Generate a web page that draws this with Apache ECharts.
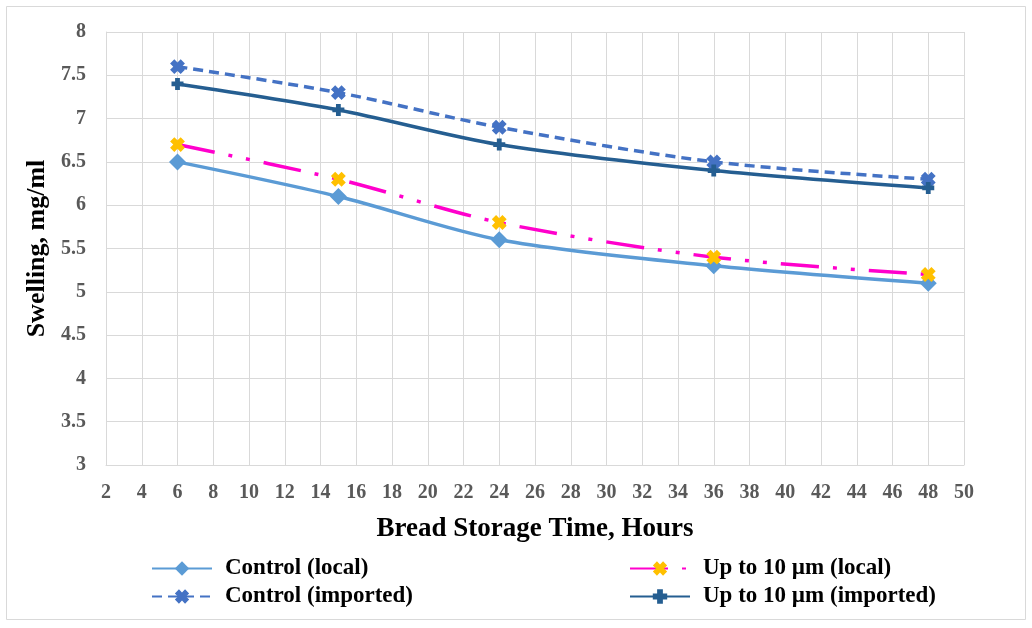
<!DOCTYPE html>
<html><head><meta charset="utf-8">
<script src="https://cdn.jsdelivr.net/npm/echarts@6/dist/echarts.min.js"></script>
<style>html,body{margin:0;padding:0;background:#fff}#c{width:1032px;height:628px}</style>
</head><body><div id="c"></div>
<script>
const hours = [6, 15, 24, 36, 48];
const controlLocal = [6.5, 6.1, 5.6, 5.3, 5.1];
const controlImported = [7.6, 7.3, 6.9, 6.5, 6.3];
const upLocal = [6.7, 6.3, 5.8, 5.4, 5.2];
const upImported = [7.4, 7.1, 6.7, 6.4, 6.2];
const names = ['Control (local)', 'Control (imported)', 'Up to 10 µm (local)', 'Up to 10 µm (imported)'];

const pair = arr => hours.map((h, i) => [h, arr[i]]);
const plusPath = 'path://M3,0H7V3H10V7H7V10H3V7H0V3H3Z';
const font = '"Liberation Serif", "Times New Roman", serif';

const chart = echarts.init(document.getElementById('c'));
chart.setOption({
  animation: false,
  backgroundColor: '#fff',
  graphic: [{type: 'rect', shape: {x: 6.5, y: 6.5, width: 1019, height: 613}, style: {fill: 'none', stroke: '#d9d9d9', lineWidth: 1}}],
  grid: {left: 106, right: 68, top: 32, bottom: 163},
  xAxis: {
    type: 'value', min: 2, max: 50, interval: 2,
    name: 'Bread Storage Time, Hours', nameLocation: 'middle', nameGap: 51,
    nameTextStyle: {fontFamily: font, fontWeight: 'bold', fontSize: 27, color: '#000'},
    axisLine: {show: true, lineStyle: {color: '#d9d9d9'}},
    axisTick: {show: false},
    axisLabel: {fontFamily: font, fontSize: 20, fontWeight: 'bold', color: '#595959', margin: 18},
    splitLine: {show: true, lineStyle: {color: '#d9d9d9', width: 1}}
  },
  yAxis: {
    type: 'value', min: 3, max: 8, interval: 0.5,
    name: 'Swelling, mg/ml', nameLocation: 'middle', nameGap: 55,
    nameTextStyle: {fontFamily: font, fontWeight: 'bold', fontSize: 26, color: '#000'},
    axisLine: {show: true, lineStyle: {color: '#d9d9d9'}},
    axisTick: {show: false},
    axisLabel: {fontFamily: font, fontSize: 20, fontWeight: 'bold', color: '#595959', margin: 20},
    splitLine: {show: true, lineStyle: {color: '#d9d9d9', width: 1}}
  },
  legend: [
    {data: [names[0], names[1]], orient: 'vertical', left: 146, top: 552, itemWidth: 60, itemHeight: 18, itemGap: 5,
     textStyle: {fontFamily: font, fontWeight: 'bold', fontSize: 23, color: '#000', padding: [0, 0, 0, 8]}},
    {data: [names[2], names[3]], orient: 'vertical', left: 624, top: 552, itemWidth: 60, itemHeight: 18, itemGap: 5,
     textStyle: {fontFamily: font, fontWeight: 'bold', fontSize: 23, color: '#000', padding: [0, 0, 0, 8]}}
  ],
  series: [
    {name: names[0], type: 'line', data: pair(controlLocal), smooth: 0.3,
     symbol: 'diamond', symbolSize: 17, itemStyle: {color: '#5b9bd5'},
     lineStyle: {color: '#5b9bd5', width: 3.5}},
    {name: names[1], type: 'line', data: pair(controlImported), smooth: 0.3,
     symbol: plusPath, symbolRotate: 45, symbolSize: 15, itemStyle: {color: '#4472c4'},
     lineStyle: {color: '#4472c4', width: 3.5, type: [10, 6]}},
    {name: names[2], type: 'line', data: pair(upLocal), smooth: 0.3,
     symbol: plusPath, symbolRotate: 45, symbolSize: 15, itemStyle: {color: '#ffc000'},
     lineStyle: {color: '#ff00cc', width: 3.5, type: [38, 14, 4, 14, 4, 14]}},
    {name: names[3], type: 'line', data: pair(upImported), smooth: 0.3,
     symbol: plusPath, symbolSize: 12, itemStyle: {color: '#255e91'},
     lineStyle: {color: '#255e91', width: 3.5}}
  ]
});
</script></body></html>
